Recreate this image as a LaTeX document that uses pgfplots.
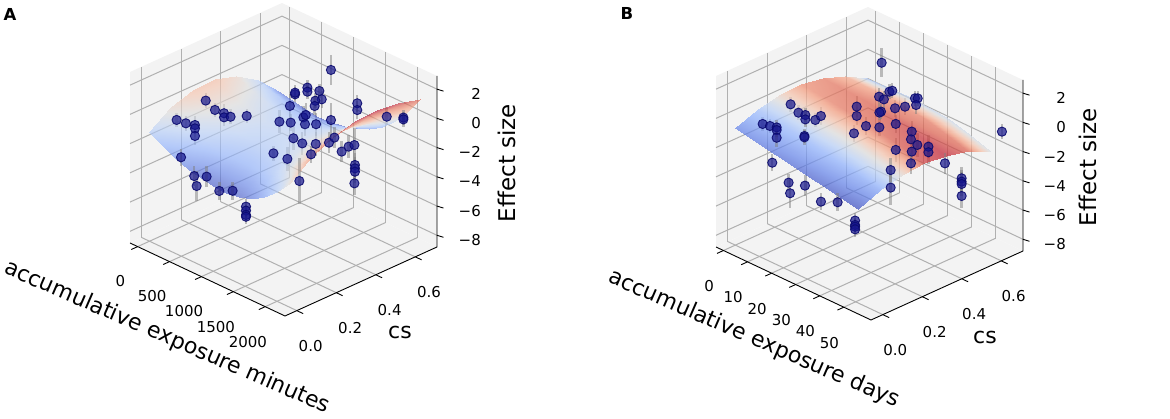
\documentclass[border=0pt]{standalone}
\usepackage{fontspec}
\setmainfont{DejaVu Sans}
\usepackage{pgfplots}
\pgfplotsset{compat=1.18}
\usepackage{pgfplotstable}
\definecolor{ptfill}{RGB}{20,20,140}
\definecolor{ptedge}{RGB}{10,10,110}
\definecolor{gridc}{RGB}{176,176,176}
\definecolor{panec}{RGB}{243,243,243}
\tikzset{tk/.style={black, line width=0.9pt}}

% ---------- surface A : effect size vs minutes and cs ----------
\pgfplotstableread[row sep=\\]{
x y z\\
0 0 -1.33\\ 200 0 -1.80\\ 400 0 -2.25\\ 600 0 -2.60\\ 800 0 -2.85\\ 1000 0 -2.98\\ 1200 0 -3.00\\ 1400 0 -2.90\\ 1600 0 -2.60\\ 1800 0 -2.05\\ 2000 0 -1.30\\ 2200 0 -0.30\\
0 0.11 -0.31\\ 200 0.11 -0.76\\ 400 0.11 -1.20\\ 600 0.11 -1.53\\ 800 0.11 -1.77\\ 1000 0.11 -1.88\\ 1200 0.11 -1.88\\ 1400 0.11 -1.77\\ 1600 0.11 -1.45\\ 1800 0.11 -0.88\\ 2000 0.11 -0.12\\ 2200 0.11 0.90\\
0 0.22 0.22\\ 200 0.22 -0.23\\ 400 0.22 -0.66\\ 600 0.22 -0.98\\ 800 0.22 -1.21\\ 1000 0.22 -1.32\\ 1200 0.22 -1.31\\ 1400 0.22 -1.19\\ 1600 0.22 -0.87\\ 1800 0.22 -0.30\\ 2000 0.22 0.48\\ 2200 0.22 1.50\\
0 0.33 0.25\\ 200 0.33 -0.16\\ 400 0.33 -0.56\\ 600 0.33 -0.85\\ 800 0.33 -1.05\\ 1000 0.33 -1.12\\ 1200 0.33 -1.08\\ 1400 0.33 -0.93\\ 1600 0.33 -0.57\\ 1800 0.33 0.04\\ 2000 0.33 0.84\\ 2200 0.33 1.90\\
0 0.44 -0.22\\ 200 0.44 -0.58\\ 400 0.44 -0.92\\ 600 0.44 -1.17\\ 800 0.44 -1.31\\ 1000 0.44 -1.33\\ 1200 0.44 -1.24\\ 1400 0.44 -1.03\\ 1600 0.44 -0.63\\ 1800 0.44 0.03\\ 2000 0.44 0.89\\ 2200 0.44 2.00\\
0 0.55 -1.17\\ 200 0.55 -1.46\\ 400 0.55 -1.74\\ 600 0.55 -1.91\\ 800 0.55 -1.99\\ 1000 0.55 -1.94\\ 1200 0.55 -1.78\\ 1400 0.55 -1.51\\ 1600 0.55 -1.03\\ 1800 0.55 -0.30\\ 2000 0.55 0.62\\ 2200 0.55 1.80\\
0 0.66 -2.63\\ 200 0.66 -2.83\\ 400 0.66 -3.01\\ 600 0.66 -3.08\\ 800 0.66 -3.06\\ 1000 0.66 -2.92\\ 1200 0.66 -2.66\\ 1400 0.66 -2.29\\ 1600 0.66 -1.72\\ 1800 0.66 -0.90\\ 2000 0.66 0.13\\ 2200 0.66 1.40\\
}\surfA

% ---------- points A (behind the surface) ----------
\pgfplotstableread[row sep=\\]{
x y z e\\
249 0.057 -0.34 0.5\\ 323 0.080 -0.56 0.5\\ 394 0.103 -0.67 0.6\\ 394 0.103 -0.90 0.6\\ 394 0.103 -1.42 0.6\\
479 0.130 1.01 0.5\\ 553 0.153 0.38 0.5\\ 624 0.176 0.16 0.6\\ 624 0.176 -0.12 0.6\\ 677 0.192 -0.07 0.5\\
803 0.233 -0.01 0.5\\ 1015 0.300 -2.54 0.5\\ 1125 0.335 -2.91 0.8\\ 1062 0.315 -0.37 0.8\\ 1146 0.341 0.72 0.8\\
1152 0.343 -0.42 0.6\\ 1173 0.350 -1.49 0.8\\ 1244 0.372 -1.83 0.8\\ 1252 0.375 -0.05 0.8\\ 1270 0.381 0.11 0.8\\
1265 0.379 -0.52 0.8\\ 1352 0.407 -0.51 0.8\\ 1350 0.406 -1.86 0.8\\ 1912 0.584 0.07 0.6\\
}\ptsAback

% ---------- points A (in front of the surface) ----------
\pgfplotstableread[row sep=\\]{
x y z e\\
284 0.068 -2.89 0.6\\ 389 0.101 -4.16 0.7\\ 408 0.107 -4.84 1.0\\ 487 0.132 -4.19 0.7\\ 587 0.164 -5.16 0.6\\
693 0.197 -5.13 0.6\\ 798 0.231 -6.21 0.5\\ 798 0.231 -6.48 0.5\\ 798 0.231 -6.78 0.5\\ 798 0.231 -6.90 0.5\\
1313 0.394 -2.57 0.6\\ 1220 0.365 -4.41 1.6\\ 1186 0.354 1.52 0.5\\ 1186 0.354 1.63 0.5\\ 1284 0.385 1.99 0.5\\
1284 0.385 1.71 0.5\\ 1379 0.415 1.77 0.5\\ 1397 0.421 1.20 0.6\\ 1347 0.405 1.10 0.5\\ 1342 0.403 0.74 0.6\\
1124 0.556 1.82 1.0\\ 1471 0.444 -0.21 1.2\\ 1455 0.439 -1.76 0.7\\ 1497 0.453 -1.41 0.7\\ 1555 0.471 -2.36 0.7\\
1611 0.488 -2.01 0.8\\ 1656 0.503 -1.90 1.2\\ 1661 0.504 -3.26 0.8\\ 1661 0.504 -3.49 0.8\\ 1661 0.504 -3.72 0.8\\
1656 0.503 -4.52 0.8\\ 1679 0.510 0.96 0.6\\ 1679 0.510 0.50 0.6\\ 2043 0.626 0.02 0.5\\ 2043 0.626 -0.10 0.5\\
}\ptsAfront

% ---------- surface B : effect size vs days and cs (c = colour value) ----------
\pgfplotstableread[row sep=\\]{
x y z c\\
0 0 -0.81 0.12\\ 8.5 0 -1.075 0.10\\ 17 0 -1.34 0.08\\ 25.5 0 -1.605 0.06\\ 34 0 -1.87 0.04\\ 42.5 0 -2.135 0.02\\ 51 0 -2.40 0.0\\
0 0.111 -0.206 0.30\\ 8.5 0.111 -0.43 0.287\\ 17 0.111 -0.659 0.273\\ 25.5 0.111 -0.904 0.26\\ 34 0.111 -1.17 0.247\\ 42.5 0.111 -1.46 0.233\\ 51 0.111 -1.776 0.22\\
0 0.222 0.115 0.56\\ 8.5 0.222 -0.065 0.555\\ 17 0.222 -0.253 0.55\\ 25.5 0.222 -0.473 0.545\\ 34 0.222 -0.736 0.54\\ 42.5 0.222 -1.048 0.535\\ 51 0.222 -1.408 0.53\\
0 0.333 0.15 0.78\\ 8.5 0.333 0.02 0.803\\ 17 0.333 -0.123 0.827\\ 25.5 0.333 -0.312 0.85\\ 34 0.333 -0.567 0.873\\ 42.5 0.333 -0.895 0.897\\ 51 0.333 -1.295 0.92\\
0 0.444 -0.099 0.82\\ 8.5 0.444 -0.174 0.845\\ 17 0.444 -0.267 0.87\\ 25.5 0.444 -0.422 0.895\\ 34 0.444 -0.662 0.92\\ 42.5 0.444 -1.003 0.945\\ 51 0.444 -1.438 0.97\\
0 0.555 -0.632 0.70\\ 8.5 0.555 -0.647 0.73\\ 17 0.555 -0.685 0.76\\ 25.5 0.555 -0.801 0.79\\ 34 0.555 -1.024 0.82\\ 42.5 0.555 -1.37 0.85\\ 51 0.555 -1.836 0.88\\
0 0.666 -1.45 0.36\\ 8.5 0.666 -1.40 0.38\\ 17 0.666 -1.38 0.40\\ 25.5 0.666 -1.45 0.42\\ 34 0.666 -1.65 0.44\\ 42.5 0.666 -2.00 0.46\\ 51 0.666 -2.49 0.48\\
}\surfB

% ---------- points B (behind the surface) ----------
\pgfplotstableread[row sep=\\]{
x y z e\\
6.69 0.057 -0.34 0.5\\ 8.23 0.075 -0.47 0.5\\ 12.56 0.127 1.03 0.5\\ 14.17 0.147 0.46 0.5\\ 17.74 0.189 -0.02 0.5\\
18.93 0.203 0.26 0.6\\ 25.85 0.286 -0.90 0.6\\ 26.41 0.293 0.93 0.7\\ 26.41 0.293 0.29 0.6\\ 28.37 0.316 -0.39 0.6\\
31.16 0.350 -0.47 0.6\\ 34.45 0.389 0.85 0.6\\ 34.59 0.391 -0.22 0.6\\ 36.55 0.414 0.97 0.6\\ 37.95 0.431 -0.73 0.7\\
37.80 0.429 -1.26 0.7\\ 37.95 0.431 -2.10 0.7\\ 39.13 0.445 -1.64 0.8\\ 41.44 0.473 -1.75 0.8\\ 41.44 0.473 -2.13 0.8\\
34.59 0.391 -2.00 0.8\\
}\ptsBback

% ---------- points B (in front of the surface) ----------
\pgfplotstableread[row sep=\\]{
x y z e\\
9.63 0.092 -0.56 0.5\\ 9.63 0.092 -0.74 0.5\\ 9.63 0.092 -1.27 0.6\\ 8.72 0.081 -2.98 0.6\\ 15.64 0.164 0.31 0.5\\
15.64 0.164 0.01 0.5\\ 15.43 0.162 -1.13 0.5\\ 15.43 0.162 -1.22 0.5\\ 12.14 0.122 -4.33 0.6\\ 12.42 0.126 -5.06 1.0\\
15.57 0.163 -4.52 0.7\\ 18.93 0.203 -5.60 0.6\\ 22.42 0.245 -5.63 0.6\\ 26.06 0.289 -6.87 0.5\\ 26.06 0.289 -7.17 0.5\\
26.06 0.289 -7.29 0.5\\ 26.06 0.289 -7.47 0.5\\ 31.10 0.349 1.63 0.6\\ 15.2 0.556 1.45 1.0\\ 32.13 0.361 1.45 0.6\\
33.26 0.375 1.98 0.5\\ 33.89 0.382 2.05 0.5\\ 31.50 0.354 0.61 0.5\\ 31.16 0.350 0.54 0.5\\ 38.64 0.439 1.55 0.5\\
39.20 0.446 1.55 0.5\\ 38.86 0.442 1.09 0.6\\ 37.80 0.429 -2.90 0.7\\ 33.54 0.378 -3.38 0.8\\ 33.54 0.378 -4.58 1.2\\
44.94 0.514 -2.87 0.7\\ 48.43 0.556 -3.88 0.8\\ 48.43 0.556 -4.11 0.8\\ 48.43 0.556 -4.27 0.8\\ 48.43 0.556 -5.09 0.8\\
56.9 0.657 -0.65 0.5\\
}\ptsBfront

\pgfplotsset{
  panel/.style={
    set layers, clip=false,
    axis line style={draw=none},
    grid=major, major grid style={draw=gridc, line width=1pt},
    tick style={draw=none}, major tick length=7pt, tick align=outside,
    ticklabel style={font=\fontsize{15}{16}\selectfont},
    ytick={0,0.2,0.4,0.6}, yticklabels={0.0,0.2,0.4,0.6},
    ztick={-8,-6,-4,-2,0,2}, zticklabels={−8,−6,−4,−2,0,2},
    zticklabel pos=right,
    y={(197.403pt,89.610pt)}, z={(0pt,14.6154pt)},
    ymin=-0.06, ymax=0.71, zmin=-8.8, zmax=2.9,
    colormap={coolwarm}{rgb255=(59,76,192) rgb255=(98,130,234) rgb255=(141,176,254) rgb255=(184,208,249) rgb255=(221,221,221) rgb255=(245,196,173) rgb255=(244,154,123) rgb255=(222,96,77) rgb255=(180,4,38)},
    ylabel={cs}, zlabel={Effect size},
  },
  pts/.style={only marks, mark=*, mark size=4.6pt,
    mark options={fill=ptfill, fill opacity=0.7, draw=ptedge, draw opacity=0.9, line width=0.9pt},
    error bars/.cd, z dir=both, z explicit, error mark=none,
    error bar style={draw=gray, line width=2.4pt, opacity=0.5}},
}

\newcommand{\panes}{%
  \begin{pgfonlayer}{axis background}
  \fill[panec] (rel axis cs:0,0,0) -- (rel axis cs:0,1,0) -- (rel axis cs:0,1,1) -- (rel axis cs:0,0,1) -- cycle;
  \fill[panec] (rel axis cs:0,1,0) -- (rel axis cs:1,1,0) -- (rel axis cs:1,1,1) -- (rel axis cs:0,1,1) -- cycle;
  \fill[panec] (rel axis cs:0,0,0) -- (rel axis cs:1,0,0) -- (rel axis cs:1,1,0) -- (rel axis cs:0,1,0) -- cycle;
  \end{pgfonlayer}
  \draw[tk] (rel axis cs:0,0,0) -- (rel axis cs:1,0,0) -- (rel axis cs:1,1,0) -- (rel axis cs:1,1,1);
}

\begin{document}
\begin{tikzpicture}
% ================= panel A =================
\begin{axis}[panel,
  anchor=origin, at={(149.498pt,305.387pt)},
  x={(0.063786pt,-0.030041pt)},
  xmin=-120, xmax=2310,
  xtick={0,500,1000,1500,2000}, xticklabels={0,500,1000,1500,2000},
  xticklabel style={anchor=center, xshift=-11pt, yshift=-32pt},
  yticklabel style={anchor=center, xshift=7.5pt, yshift=-32pt},
  zticklabel style={anchor=east, xshift=41pt, yshift=-7.5pt},
  xlabel={accumulative exposure minutes},
  every axis x label/.style={at={(rel axis cs:0.777,-0.548,0)}, rotate=-23.5, anchor=center, font=\fontsize{22}{24}\selectfont},
  every axis y label/.style={at={(rel axis cs:1.4827,0.2643,0)}, anchor=center, font=\fontsize{22}{24}\selectfont},
  every axis z label/.style={at={(rel axis cs:1,1.4605,0.305)}, rotate=90, anchor=center, font=\fontsize{23}{25}\selectfont},
]
\panes
\pgfplotsinvokeforeach{0,500,1000,1500,2000}{\draw[tk] (axis cs:#1,-0.06,-8.8) -- ++(-6.4pt,-2.9pt);}
\pgfplotsinvokeforeach{0,0.2,0.4,0.6}{\draw[tk] (axis cs:2310,#1,-8.8) -- ++(6.3pt,-3pt);}
\pgfplotsinvokeforeach{-8,-6,-4,-2,0,2}{\draw[tk] (axis cs:2310,0.71,#1) -- ++(6.5pt,-2pt);}
\addplot3[pts] table[x=x,y=y,z=z,z error=e]{\ptsAback};
\addplot3[surf, shader=interp, opacity=0.62, mesh/ordering=x varies, mesh/cols=12, mesh/rows=7, z buffer=sort] table[x=x,y=y,z=z]{\surfA};
\addplot3[pts] table[x=x,y=y,z=z,z error=e]{\ptsAfront};
\end{axis}

% ================= panel B =================
\begin{axis}[panel,
  anchor=origin, at={(735.305pt,301.478pt)},
  x={(2.40683pt,-1.13354pt)},
  xmin=-3.1, xmax=61.3,
  xtick={0,10,20,30,40,50}, xticklabels={0,10,20,30,40,50},
  xticklabel style={anchor=center, xshift=-8pt, yshift=-32.5pt},
  yticklabel style={anchor=center, xshift=6pt, yshift=-32pt},
  zticklabel style={anchor=east, xshift=40pt, yshift=-8pt},
  point meta min=0, point meta max=1,
  xlabel={accumulative exposure days},
  every axis x label/.style={at={(rel axis cs:0.763,-0.528,0)}, rotate=-23.5, anchor=center, font=\fontsize{22}{24}\selectfont},
  every axis y label/.style={at={(rel axis cs:1.486,0.254,0)}, anchor=center, font=\fontsize{22}{24}\selectfont},
  every axis z label/.style={at={(rel axis cs:1,1.4276,0.3187)}, rotate=90, anchor=center, font=\fontsize{23}{25}\selectfont},
]
\panes
\pgfplotsinvokeforeach{0,10,20,30,40,50}{\draw[tk] (axis cs:#1,-0.06,-8.8) -- ++(-6.4pt,-2.9pt);}
\pgfplotsinvokeforeach{0,0.2,0.4,0.6}{\draw[tk] (axis cs:61.3,#1,-8.8) -- ++(6.3pt,-3pt);}
\pgfplotsinvokeforeach{-8,-6,-4,-2,0,2}{\draw[tk] (axis cs:61.3,0.71,#1) -- ++(6.5pt,-2pt);}
\addplot3[pts] table[x=x,y=y,z=z,z error=e]{\ptsBback};
\addplot3[surf, shader=interp, opacity=0.7, point meta=\thisrow{c}, mesh/ordering=x varies, mesh/cols=7, mesh/rows=7, z buffer=sort] table[x=x,y=y,z=z]{\surfB};
\addplot3[pts] table[x=x,y=y,z=z,z error=e]{\ptsBfront};
\end{axis}

\node[font=\bfseries\fontsize{16.5}{18}\selectfont] at (10pt,404pt) {A};
\node[font=\bfseries\fontsize{16.5}{18}\selectfont] at (627pt,405pt) {B};
\pgfresetboundingbox
\path[use as bounding box] (0,0) rectangle (1170pt,418pt);
\end{tikzpicture}
\end{document}
